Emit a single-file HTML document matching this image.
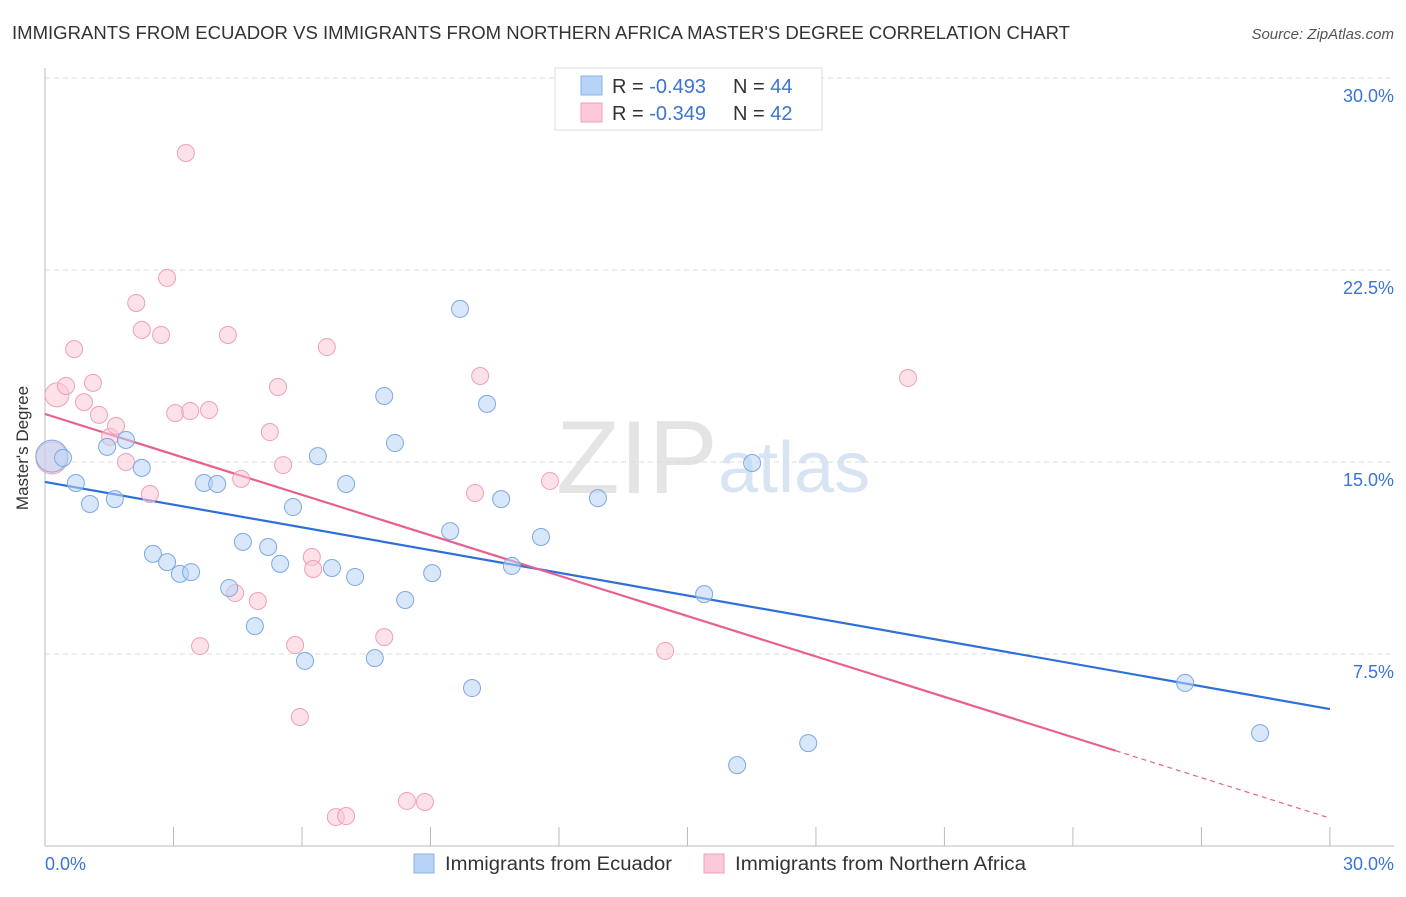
<!DOCTYPE html>
<html><head><meta charset="utf-8"><style>
body{margin:0;background:#fff;font-family:"Liberation Sans",sans-serif;}
svg text{font-family:"Liberation Sans",sans-serif;}
</style></head><body>
<svg id="chart" width="1406" height="892" viewBox="0 0 1406 892" xmlns="http://www.w3.org/2000/svg">
<text x="12" y="39" font-size="18" fill="#333" textLength="1058" lengthAdjust="spacingAndGlyphs">IMMIGRANTS FROM ECUADOR VS IMMIGRANTS FROM NORTHERN AFRICA MASTER'S DEGREE CORRELATION CHART</text>
<text x="1394" y="39" font-size="15" fill="#555" font-style="italic" text-anchor="end">Source: ZipAtlas.com</text>
<g>
<text x="556" y="493" font-size="104" fill="#e4e4e4" font-family="Liberation Serif,serif">ZIP</text>
<text x="718" y="492" font-size="72" fill="#d8e4f3">atlas</text>
</g>
<g id="grid"></g>
<g id="axes"></g>
<g id="lines"></g>
<g id="points"></g>
<text x="36" y="456" font-size="17" fill="#333" text-anchor="middle" transform="rotate(-90 28 456)">Master's Degree</text>
<text x="45" y="870" font-size="18" fill="#3a74d4">0.0%</text>
<text x="1394" y="870" font-size="18" fill="#3a74d4" text-anchor="end">30.0%</text>
<g>
<rect x="555" y="68" width="267" height="62" fill="#fff" stroke="#ddd"/>
<rect x="581" y="76" width="21" height="19" fill="#b8d3f5" stroke="#8ab0e6"/>
<rect x="581" y="103" width="21" height="19" fill="#fbc9d7" stroke="#f0a0b8"/>
<text x="612" y="93" font-size="20" fill="#333">R = <tspan fill="#3a74d4">-0.493</tspan><tspan x="733">N = </tspan><tspan fill="#3a74d4">44</tspan></text>
<text x="612" y="120" font-size="20" fill="#333">R = <tspan fill="#3a74d4">-0.349</tspan><tspan x="733">N = </tspan><tspan fill="#3a74d4">42</tspan></text>
</g>
<g>
<rect x="414" y="854" width="20" height="19" fill="#b8d3f5" stroke="#8ab0e6"/>
<text x="445" y="870" font-size="19" fill="#333" textLength="227" lengthAdjust="spacingAndGlyphs">Immigrants from Ecuador</text>
<rect x="704" y="854" width="20" height="19" fill="#fbc9d7" stroke="#f0a0b8"/>
<text x="735" y="870" font-size="19" fill="#333" textLength="291" lengthAdjust="spacingAndGlyphs">Immigrants from Northern Africa</text>
</g>
</svg>
<script>
const yTicks=[7.5,15,22.5,30];
const yTickLabels=["7.5%","15.0%","22.5%","30.0%"];
const xTicks=[3,6,9,12,15,18,21,24,27,30];
const blueX=[0.16,0.42,0.72,1.05,1.45,1.63,1.89,2.26,2.52,2.85,3.15,3.41,3.71,4.02,4.30,4.62,4.90,5.21,5.49,5.79,6.07,6.37,6.70,7.03,7.24,7.70,7.92,8.17,8.41,9.04,9.46,9.69,9.97,10.32,10.65,10.90,11.58,12.91,15.39,16.16,16.51,17.82,26.62,28.37];
const blueY=[15.23,15.16,14.18,13.36,15.59,13.55,15.86,14.77,11.41,11.09,10.63,10.70,14.18,14.14,10.08,11.88,8.59,11.68,11.02,13.24,7.23,15.23,10.86,14.14,10.51,7.34,17.58,15.74,9.61,10.66,12.30,20.98,6.17,17.27,13.55,10.94,12.07,13.59,9.84,3.16,14.96,4.02,6.37,4.41];
const pinkX=[0.16,0.28,0.49,0.68,0.91,1.12,1.26,1.52,1.66,1.89,2.13,2.26,2.45,2.71,2.85,3.04,3.29,3.39,3.62,3.83,4.27,4.44,4.58,4.97,5.25,5.44,5.56,5.84,5.95,6.23,6.26,6.58,6.79,7.03,7.92,8.45,8.87,10.04,10.16,11.79,14.48,20.15];
const pinkY=[15.16,17.62,17.97,19.41,17.34,18.09,16.84,15.98,16.41,15.0,21.21,20.16,13.75,19.96,22.19,16.91,27.07,16.99,7.81,17.03,19.96,9.88,14.34,9.57,16.17,17.93,14.88,7.85,5.04,11.29,10.82,19.49,1.13,1.17,8.16,1.76,1.72,13.79,18.36,14.26,7.62,18.28];
const blueLine=[14.22,5.35];
const pinkLine=[16.875,1.09];
const pinkSolidEnd=25;

const NS="http://www.w3.org/2000/svg";
const X=v=>45+v*42.83;
const Y=v=>846-v*25.6;
function mk(tag,attrs,parent){const e=document.createElementNS(NS,tag);for(const k in attrs)e.setAttribute(k,attrs[k]);document.getElementById(parent).appendChild(e);return e;}
yTicks.forEach((t,i)=>{
  const g=mk('line',{x1:45,x2:1394,y1:Y(t),y2:Y(t),stroke:'#ddd','stroke-dasharray':'5,4'},'grid');
  
  
  const tx=mk('text',{x:1394,y:Y(t)+24,'font-size':18,fill:'#3a74d4','text-anchor':'end'},'grid');
  tx.textContent=yTickLabels[i];
  
  
});
const ya=mk('line',{x1:45,x2:45,y1:68,y2:846,stroke:'#bbb'},'axes');


const xa=mk('line',{x1:45,x2:1394,y1:846,y2:846,stroke:'#bbb'},'axes');


xTicks.forEach(t=>{
  const l=mk('line',{x1:X(t),x2:X(t),y1:827,y2:846,stroke:'#bbb'},'axes');
  
  
});
function pts(xs,ys,fill,stroke,name){
  xs.forEach((x,i)=>{
    const r=i===0?16:(name==='pink-point'&&i===1?12:8.5);
    const c=mk('circle',{cx:X(x),cy:Y(ys[i]),r:r,fill:fill,'fill-opacity':0.55,stroke:stroke,'stroke-width':1},'points');
    
    
  });
}
pts(pinkX,pinkY,'#fbc9d7','#eea0b8','pink-point');
pts(blueX,blueY,'#b8d3f5','#7ea8e2','blue-point');
const bl=mk('line',{x1:X(0),y1:Y(blueLine[0]),x2:X(30),y2:Y(blueLine[1]),stroke:'#2e6fd8','stroke-width':2.2},'lines');


const pEnd=pinkLine[0]+(pinkLine[1]-pinkLine[0])*pinkSolidEnd/30;
const pl=mk('line',{x1:X(0),y1:Y(pinkLine[0]),x2:X(pinkSolidEnd),y2:Y(pEnd),stroke:'#e8608e','stroke-width':2.2},'lines');


const pd=mk('line',{x1:X(pinkSolidEnd),y1:Y(pEnd),x2:X(30),y2:Y(pinkLine[1]),stroke:'#e8608e','stroke-width':1.2,'stroke-dasharray':'5,4'},'lines');


</script>
</body></html>
